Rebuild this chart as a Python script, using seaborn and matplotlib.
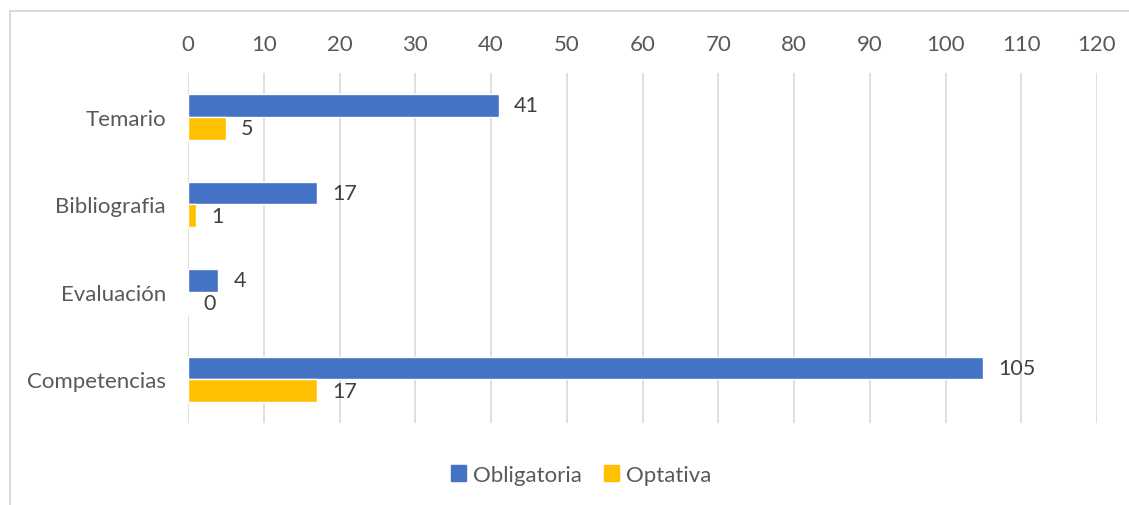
import pandas as pd
import seaborn as sns
import matplotlib.pyplot as plt
from matplotlib.patches import Rectangle

categorias = ['Temario', 'Bibliografia', 'Evaluación', 'Competencias']
obligatoria = [41, 17, 4, 105]
optativa = [5, 1, 0, 17]
series = ['Obligatoria', 'Optativa']
colores = ['#4472C4', '#FFC000']
ticks_x = list(range(0, 121, 10))

df = pd.DataFrame({
    'categoria': categorias * 2,
    'valor': obligatoria + optativa,
    'tipo': [series[0]] * len(categorias) + [series[1]] * len(categorias),
})

sns.set_style('white')
plt.rcParams['font.family'] = ['Lato', 'DejaVu Sans']

fig = plt.figure(figsize=(11.29, 5.06), dpi=100)
ax = fig.add_axes([188 / 1129, 1 - 424 / 506, (1097 - 188) / 1129, (424 - 74) / 506])

sns.barplot(data=df, x='valor', y='categoria', hue='tipo', orient='h',
            palette=colores, width=0.52, saturation=1, ax=ax, legend=False)

ax.set_xlim(0, 120)
ax.set_xticks(ticks_x)
ax.xaxis.tick_top()
ax.grid(axis='x', color='#D9D9D9', linewidth=1.2)
ax.set_axisbelow(True)
for s in ax.spines.values():
    s.set_visible(False)
ax.tick_params(axis='x', length=0, pad=13.5, labelsize=16, labelcolor='#595959')
ax.tick_params(axis='y', length=0, pad=16, labelsize=16, labelcolor='#595959')
ax.set_xlabel('')
ax.set_ylabel('')

for c in ax.containers:
    ax.bar_label(c, padding=11, fontsize=15.5, color='#404040')

handles = [Rectangle((0, 0), 1, 1, color=col) for col in colores]
fig.legend(handles, series, loc='center', bbox_to_anchor=(581 / 1129, 1 - 476 / 506),
           ncol=2, frameon=False, fontsize=16, labelcolor='#595959',
           handlelength=0.7, handleheight=0.7, handletextpad=0.3, columnspacing=1.0)

# borde del gráfico
fig.patches.append(Rectangle((10 / 1129, -0.1), 1.2, 1.1 - 12 / 506, transform=fig.transFigure,
                             fill=False, edgecolor='#D9D9D9', linewidth=1.5))

fig.savefig('out.png', dpi=100)
